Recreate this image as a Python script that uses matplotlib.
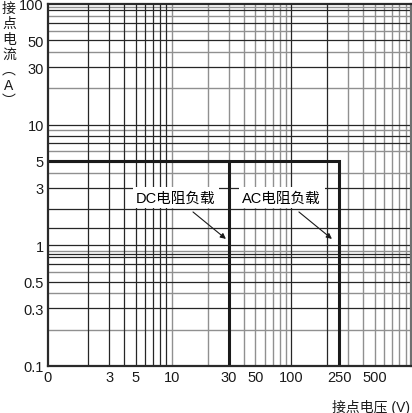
import numpy as np
import matplotlib
matplotlib.use('Agg')
import matplotlib.pyplot as plt

plt.rcParams['font.family'] = ['Liberation Sans', 'Noto Sans CJK SC', 'DejaVu Sans']

# axis range and labels
x_min, x_max = 0.92, 1000
y_min, y_max = 0.1, 100
x_ticks = [x_min, 3, 5, 10, 30, 50, 100, 250, 500]
x_ticklabels = ['0', '3', '5', '10', '30', '50', '100', '250', '500']
y_ticks = [0.1, 0.3, 0.5, 1, 3, 5, 10, 30, 50, 100]
y_ticklabels = ['0.1', '0.3', '0.5', '1', '3', '5', '10', '30', '50', '100']

# grid lines (dark and light)
v_dark = [2, 3, 4, 5, 6, 7, 8, 9, 100, 200]
v_light = [10, 20, 30, 40, 50, 60, 70, 80, 90, 300, 400, 500, 600, 700, 800, 900]
h_dark = [0.3, 0.5, 0.7, 0.8, 0.85, 1, 1.4, 2, 3, 7, 8, 10, 30, 50, 70, 90]
h_light = [0.2, 0.4, 0.6, 0.9, 4, 6, 9, 20, 40, 60, 80, 95]

# ratings
rated_current = 5
dc_voltage = 30
ac_voltage = 250

fig = plt.figure(figsize=(4.12, 4.14), dpi=100)
ax = fig.add_axes([48/412, 1-367/414, 363/412, 362/414])
ax.set_xscale('log')
ax.set_yscale('log')
ax.set_xlim(x_min, x_max)
ax.set_ylim(y_min, y_max)

for v in v_light:
    ax.axvline(v, color='#909090', lw=1.0, zorder=1)
for v in v_dark:
    ax.axvline(v, color='#262626', lw=0.9, zorder=2)
for h in h_light:
    ax.axhline(h, color='#909090', lw=1.0, zorder=1)
for h in h_dark:
    ax.axhline(h, color='#262626', lw=0.9, zorder=2)

# DC and AC limits
ax.plot([x_min, dc_voltage, dc_voltage], [rated_current, rated_current, y_min],
        color='#1a1a1a', lw=2.2, zorder=4, solid_joinstyle='miter')
ax.plot([x_min, ac_voltage, ac_voltage], [rated_current, rated_current, y_min],
        color='#1a1a1a', lw=2.2, zorder=4, solid_joinstyle='miter')

box = dict(facecolor='white', edgecolor='none', pad=2.5)
ax.annotate('DC电阻负载', xy=(28.3, 1.13), xytext=(10.8, 2.47),
            ha='center', va='center', fontsize=10.5, bbox=box, zorder=6,
            arrowprops=dict(arrowstyle='-|>', color='#1a1a1a', lw=0.8,
                            mutation_scale=8, shrinkA=4, shrinkB=0))
ax.annotate('AC电阻负载', xy=(218, 1.13), xytext=(83, 2.47),
            ha='center', va='center', fontsize=10.5, bbox=box, zorder=6,
            arrowprops=dict(arrowstyle='-|>', color='#1a1a1a', lw=0.8,
                            mutation_scale=8, shrinkA=4, shrinkB=0))

ax.set_xticks(x_ticks)
ax.set_xticklabels(x_ticklabels)
ax.set_yticks(y_ticks)
ax.set_yticklabels(y_ticklabels)
ax.minorticks_off()
ax.tick_params(length=0, labelsize=10.5, colors='#1a1a1a')
ax.tick_params(axis='x', pad=3)
ax.tick_params(axis='y', pad=3)

for s in ['left', 'bottom', 'top']:
    ax.spines[s].set_color('#2a2a2a')
    ax.spines[s].set_linewidth(1.6)
ax.spines['right'].set_color('#707070')
ax.spines['right'].set_linewidth(1.6)
for s in ax.spines.values():
    s.set_zorder(5)

fig.text(9/412, 1-2/414, '接\n点\n电\n流\n︵\nA\n︶', ha='center', va='top',
         fontsize=10, linespacing=1.12, color='#1a1a1a')
fig.text(410/412, 1-408/414, '接点电压 (V)', ha='right', va='center',
         fontsize=10, color='#1a1a1a')

fig.savefig('out.png', dpi=100)
